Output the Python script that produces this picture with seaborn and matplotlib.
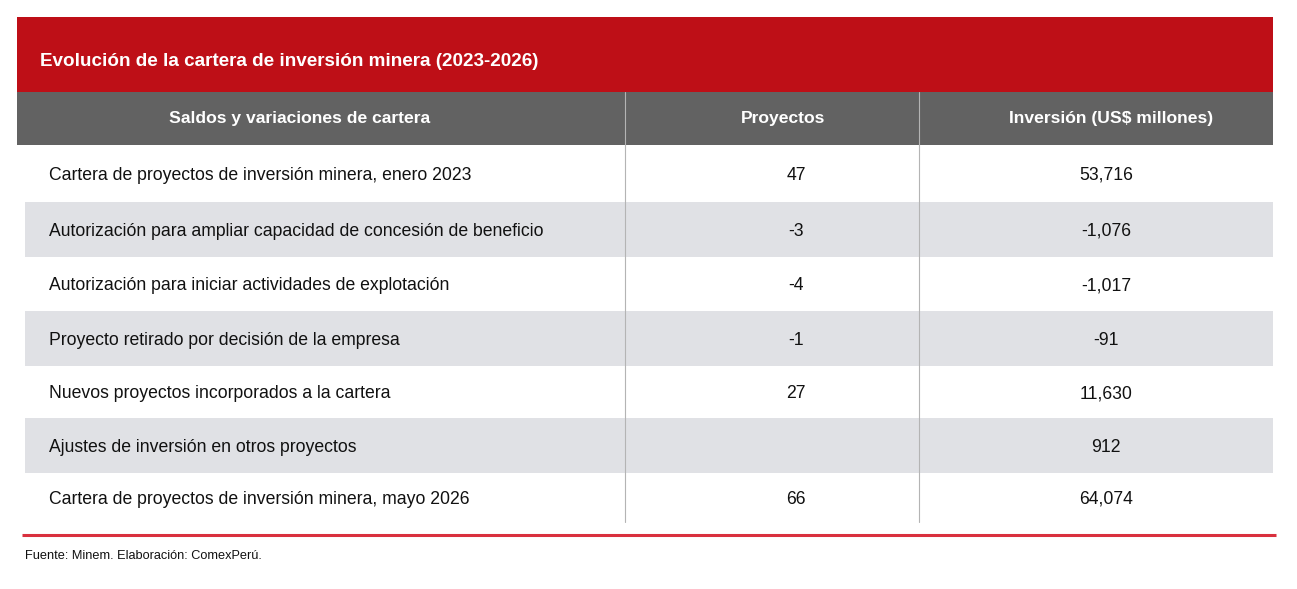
import matplotlib
matplotlib.use("Agg")
import matplotlib.pyplot as plt
import seaborn as sns
import pandas as pd

# table content
titulo = "Evolución de la cartera de inversión minera (2023-2026)"
columnas = ["Saldos y variaciones de cartera", "Proyectos", "Inversión (US$ millones)"]
conceptos = [
    "Cartera de proyectos de inversión minera, enero 2023",
    "Autorización para ampliar capacidad de concesión de beneficio",
    "Autorización para iniciar actividades de explotación",
    "Proyecto retirado por decisión de la empresa",
    "Nuevos proyectos incorporados a la cartera",
    "Ajustes de inversión en otros proyectos",
    "Cartera de proyectos de inversión minera, mayo 2026",
]
proyectos = [47, -3, -4, -1, 27, None, 66]
inversion = [53716, -1076, -1017, -91, 11630, 912, 64074]
fuente = "Fuente: Minem. Elaboración: ComexPerú."

df = pd.DataFrame({"concepto": conceptos, "proyectos": proyectos, "inversion": inversion})

sns.set_theme(style="white")
plt.rcParams["font.family"] = ["Liberation Sans", "DejaVu Sans"]

RED = "#be0f17"
HEAD = "#626262"
STRIPE = "#e0e1e5"
LINE = "#d9303e"

fig = plt.figure(figsize=(12.97, 5.89), dpi=100)
ax = fig.add_axes([0, 0, 1, 1])
ax.set_xlim(0, 1297)
ax.set_ylim(589, 0)
ax.axis("off")

# title band
ax.add_patch(plt.Rectangle((17, 17), 1256, 75, color=RED, lw=0))
ax.text(40, 61, titulo, color="white", fontsize=13.6, fontweight="bold", va="center", ha="left")

# header band
ax.add_patch(plt.Rectangle((17, 92), 1256, 53, color=HEAD, lw=0))
col_x = [300, 783, 1111]
for cx, name in zip(col_x, columnas):
    ax.text(cx, 119, name, color="white", fontsize=12.6, fontweight="bold", va="center", ha="center")

# rows
row_top = [145, 202, 257, 311, 366, 418, 473, 522]
for i, r in df.iterrows():
    y0, y1 = row_top[i], row_top[i + 1]
    if i % 2 == 1:
        ax.add_patch(plt.Rectangle((25, y0), 1248, y1 - y0, color=STRIPE, lw=0))
    ym = (y0 + y1) / 2 + 2
    ax.text(49, ym, r["concepto"], fontsize=12.7, color="#111111", va="center", ha="left")
    if pd.notna(r["proyectos"]):
        ax.text(796, ym, f"{int(r['proyectos'])}", fontsize=12.7, color="#111111", va="center", ha="center")
    ax.text(1106, ym, f"{int(r['inversion']):,}", fontsize=12.7, color="#111111", va="center", ha="center")

# column separators
for sx in [625, 919]:
    ax.plot([sx, sx], [92, 522], color="#b4b4b4", lw=0.8)

# bottom rule and source
ax.plot([22, 1276], [535, 535], color=LINE, lw=2.2, solid_capstyle="butt")
ax.text(25, 556, fuente, fontsize=9.2, color="#111111", va="center", ha="left")

fig.savefig("out.png", dpi=100)
